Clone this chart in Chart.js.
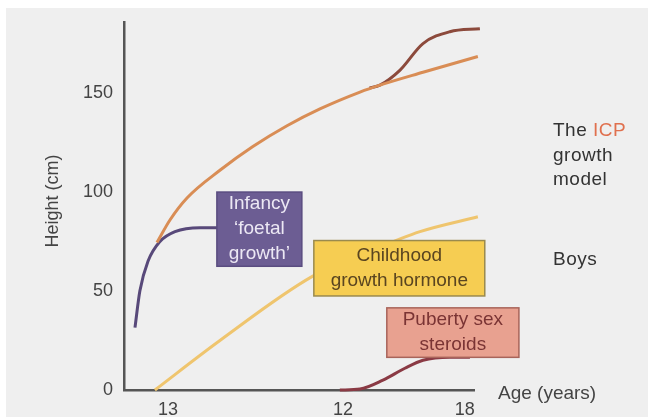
<!DOCTYPE html>
<html lang="en">
<head>
    <meta charset="UTF-8">
    <title>The ICP growth model - Boys</title>
    <script src="https://cdn.jsdelivr.net/npm/chart.js"></script>
    <style>
        body { margin: 0; background: #fff; }
        canvas { display: block; }
    </style>
</head>
<body>
    <canvas id="icpChart" width="654" height="417"></canvas>
    <script>
        // data (x = age, y = height in cm)
        const xTickValues = [3.39, 12, 18];
        const xTickLabels = ['13', '12', '18'];
        const yTickValues = [0, 50, 100, 150];

        const totalAge    = [2.85, 3.5, 4.33, 5.95, 7.57, 9.25, 10.87, 12.84, 13.82, 15.94, 18.64];
        const totalHeight = [74.5, 86, 97, 111, 123, 133.5, 142, 150.5, 154, 160.5, 168.5];

        const pubertyTotalAge    = [13.3, 13.82, 14.8, 15.94, 17.26, 18.74];
        const pubertyTotalHeight = [152.5, 154, 161.5, 175, 181, 182.5];

        const infancyAge    = [1.77, 2.01, 2.41, 3.0, 3.74, 4.97, 5.85];
        const infancyHeight = [31.5, 50, 65, 75, 80, 82, 82];

        const childhoodAge    = [2.75, 5.95, 10.52, 13.08, 15.79, 18.64];
        const childhoodHeight = [0, 25, 57.5, 69, 80, 87.5];

        const pubertyAge    = [11.85, 12.84, 13.97, 15.05, 15.94, 17.26, 18.25];
        const pubertyHeight = [0, 0.5, 5, 11, 15, 16.5, 16.5];

        const FONT = '"Liberation Sans", Arial, sans-serif';

        function pts(xs, ys) {
            return xs.map((x, i) => ({ x: x, y: ys[i] }));
        }

        function curve(data, color, width) {
            return {
                data: data,
                borderColor: color,
                borderWidth: width,
                pointRadius: 0,
                cubicInterpolationMode: 'monotone',
                clip: false
            };
        }

        // labelled boxes, placed in data units
        const boxes = [
            { x0: 5.80, x1: 9.98, y0: 62.5, y1: 100, fill: '#6c5d93', stroke: '#5a4c80',
              color: '#ece8f4', lines: ['Infancy', '\u2018foetal', 'growth\u2019'] },
            { x0: 10.57, x1: 18.98, y0: 47.5, y1: 75.5, fill: '#f6cd52', stroke: '#9a8a4e',
              color: '#5a4520', lines: ['Childhood', 'growth hormone'] },
            { x0: 14.16, x1: 20.66, y0: 16.5, y1: 41.5, fill: '#e8a190', stroke: '#a8645a',
              color: '#7a3434', lines: ['Puberty sex', 'steroids'] }
        ];

        const decor = {
            id: 'decor',
            beforeDraw(chart) {
                const c = chart.ctx;
                c.save();
                c.fillStyle = '#ffffff';
                c.fillRect(0, 0, chart.width, chart.height);
                c.fillStyle = '#efefef';
                c.fillRect(6, 8, 642, 409);
                c.restore();
            },
            afterDatasetsDraw(chart) {
                const c = chart.ctx;
                const xs = chart.scales.x, ys = chart.scales.y;
                c.save();
                boxes.forEach(b => {
                    const l = xs.getPixelForValue(b.x0), r = xs.getPixelForValue(b.x1);
                    const t = ys.getPixelForValue(b.y1), btm = ys.getPixelForValue(b.y0);
                    c.fillStyle = b.fill;
                    c.fillRect(l, t, r - l, btm - t);
                    c.strokeStyle = b.stroke;
                    c.lineWidth = 1.5;
                    c.strokeRect(l, t, r - l, btm - t);
                    c.fillStyle = b.color;
                    c.font = '19px ' + FONT;
                    c.textAlign = 'center';
                    c.textBaseline = 'middle';
                    const lh = 25;
                    const cy = (t + btm) / 2 - (b.lines.length - 1) * lh / 2;
                    b.lines.forEach((s, i) => c.fillText(s, (l + r) / 2, cy + i * lh));
                });

                // axis titles and side text
                c.fillStyle = '#444';
                c.font = '19px ' + FONT;
                c.textBaseline = 'middle';
                c.textAlign = 'left';
                c.fillText('Age (years)', 498, 394);

                c.save();
                c.font = '18px ' + FONT;
                c.translate(53, 201);
                c.rotate(-Math.PI / 2);
                c.textAlign = 'center';
                c.fillText('Height (cm)', 0, 0);
                c.restore();

                c.font = '19px ' + FONT;
                c.letterSpacing = '0.5px';
                c.fillStyle = '#333';
                c.fillText('The ', 553, 131);
                const w = c.measureText('The ').width;
                c.fillStyle = '#e0704e';
                c.fillText('ICP', 553 + w, 131);
                c.fillStyle = '#333';
                c.fillText('growth', 553, 156);
                c.fillText('model', 553, 180);
                c.fillText('Boys', 553, 260);
                c.restore();
            }
        };

        new Chart(document.getElementById('icpChart').getContext('2d'), {
            type: 'line',
            data: {
                datasets: [
                    curve(pts(childhoodAge, childhoodHeight), '#efc56e', 3),
                    curve(pts(totalAge, totalHeight), '#d98d55', 3),
                    curve(pts(pubertyTotalAge, pubertyTotalHeight), '#8c4a3c', 3),
                    curve(pts(infancyAge, infancyHeight), '#58497a', 3),
                    curve(pts(pubertyAge, pubertyHeight), '#8a3a44', 3)
                ]
            },
            options: {
                responsive: false,
                animation: false,
                layout: { padding: { left: 0, right: 180, top: 18, bottom: 0 } },
                plugins: { legend: { display: false }, tooltip: { enabled: false } },
                scales: {
                    x: {
                        type: 'linear',
                        min: 1.23,
                        max: 18.45,
                        grid: { display: false, drawTicks: false },
                        border: { display: true, color: '#555', width: 2.5 },
                        afterBuildTicks(s) { s.ticks = xTickValues.map(v => ({ value: v })); },
                        afterFit(s) { s.height = 27; },
                        ticks: {
                            autoSkip: false,
                            maxRotation: 0,
                            padding: 9,
                            color: '#444',
                            font: { family: FONT, size: 18 },
                            callback: (v, i) => xTickLabels[i]
                        }
                    },
                    y: {
                        min: 0,
                        max: 186,
                        grid: { display: false, drawTicks: false },
                        border: { display: true, color: '#555', width: 2.5 },
                        afterBuildTicks(s) { s.ticks = yTickValues.map(v => ({ value: v })); },
                        afterFit(s) { s.width = 124; },
                        ticks: {
                            padding: 11,
                            color: '#444',
                            font: { family: FONT, size: 18 }
                        }
                    }
                }
            },
            plugins: [decor]
        });
    </script>
</body>
</html>
